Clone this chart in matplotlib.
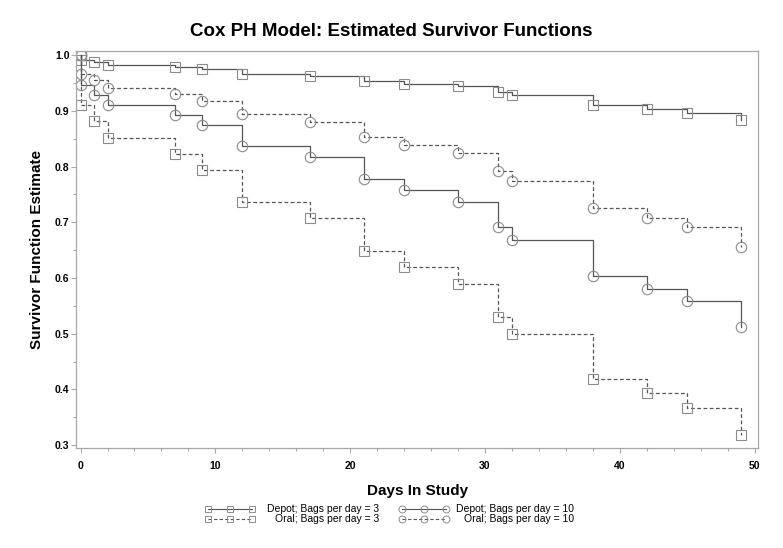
import matplotlib
matplotlib.use('Agg')
from matplotlib import pyplot as plt
from matplotlib.lines import Line2D
from matplotlib.ticker import MultipleLocator

plt.rcParams['font.family'] = ['Liberation Sans', 'DejaVu Sans']

days = [0, 0, 1, 2, 7, 9, 12, 17, 21, 24, 28, 31, 32, 38, 42, 45, 49]

depot3 = [1.0, 0.991, 0.987, 0.982, 0.978, 0.975, 0.967, 0.963, 0.954, 0.949,
          0.945, 0.934, 0.928, 0.910, 0.904, 0.897, 0.883]
oral3 = [1.0, 0.910, 0.881, 0.852, 0.822, 0.794, 0.737, 0.708, 0.649, 0.620,
         0.590, 0.530, 0.500, 0.418, 0.393, 0.367, 0.318]
depot10 = [1.0, 0.947, 0.929, 0.911, 0.892, 0.874, 0.837, 0.818, 0.778, 0.758,
           0.737, 0.692, 0.669, 0.603, 0.581, 0.558, 0.513]
oral10 = [1.0, 0.967, 0.956, 0.941, 0.930, 0.918, 0.894, 0.880, 0.853, 0.839,
          0.824, 0.792, 0.775, 0.725, 0.708, 0.691, 0.656]

labels = ['Depot; Bags per day = 3', 'Oral; Bags per day = 3',
          'Depot; Bags per day = 10', 'Oral; Bags per day = 10']

line_col = '#555555'
mark_col = '#8c8c8c'
frame_col = '#a8a8a8'
dash = (0, (3, 2))

fig = plt.figure(figsize=(7.83, 5.48), dpi=100)
ax = fig.add_axes([0.0977, 0.1825, 0.8703, 0.725])

series = [
    (depot3, 's', '-'),
    (oral3, 's', dash),
    (depot10, 'o', '-'),
    (oral10, 'o', dash),
]
for vals, mk, ls in series:
    ax.step(days, vals, where='post', color=line_col, linestyle=ls, linewidth=0.9,
            marker=mk, markersize=7.5, markerfacecolor='none',
            markeredgecolor=mark_col, markeredgewidth=0.8)

ax.set_xlim(-0.3, 50.25)
ax.set_ylim(0.295, 1.008)
ax.xaxis.set_major_locator(MultipleLocator(10))
ax.xaxis.set_minor_locator(MultipleLocator(2))
ax.yaxis.set_major_locator(MultipleLocator(0.1))
ax.yaxis.set_minor_locator(MultipleLocator(0.05))
ax.yaxis.set_major_formatter(plt.FuncFormatter(lambda v, p: '%.1f' % v))

for s in ax.spines.values():
    s.set_color(frame_col)
    s.set_linewidth(0.9)
ax.tick_params(which='both', colors=frame_col, labelcolor='black', labelsize=7.5, width=0.8)
ax.tick_params(which='major', length=3.5)
ax.tick_params(which='minor', length=2.5)
ax.tick_params(axis='y', which='major', pad=1.5)
ax.tick_params(axis='x', which='major', pad=6)
for t in ax.get_xticklabels() + ax.get_yticklabels():
    t.set_fontweight('bold')

ax.set_xlabel('Days In Study', fontsize=11, fontweight='bold', labelpad=9)
ax.set_ylabel('Survivor Function Estimate', fontsize=11, fontweight='bold', labelpad=8)
fig.text(0.5, 0.942, 'Cox PH Model: Estimated Survivor Functions',
         ha='center', va='center', fontsize=13.5, fontweight='bold')

# legend, drawn by hand so the labels are right aligned like the original
W, H = 783.0, 548.0
leg = [
    (208, 252, 379, 509, 's', '-', labels[0]),
    (208, 252, 379, 519, 's', dash, labels[1]),
    (402, 446, 574, 509, 'o', '-', labels[2]),
    (402, 446, 574, 519, 'o', dash, labels[3]),
]
for x0, x1, xt, yy, mk, ls, lab in leg:
    xs = [x0 / W, (x0 + x1) / 2 / W, x1 / W]
    ys = [1 - yy / H] * 3
    fig.add_artist(Line2D(xs, ys, transform=fig.transFigure, color=line_col,
                          linestyle=ls, linewidth=0.8, marker=mk, markersize=5,
                          markerfacecolor='none', markeredgecolor=mark_col,
                          markeredgewidth=0.7))
    fig.text(xt / W, 1 - yy / H, lab, ha='right', va='center', fontsize=7.5)

fig.savefig('out.png', dpi=100)
